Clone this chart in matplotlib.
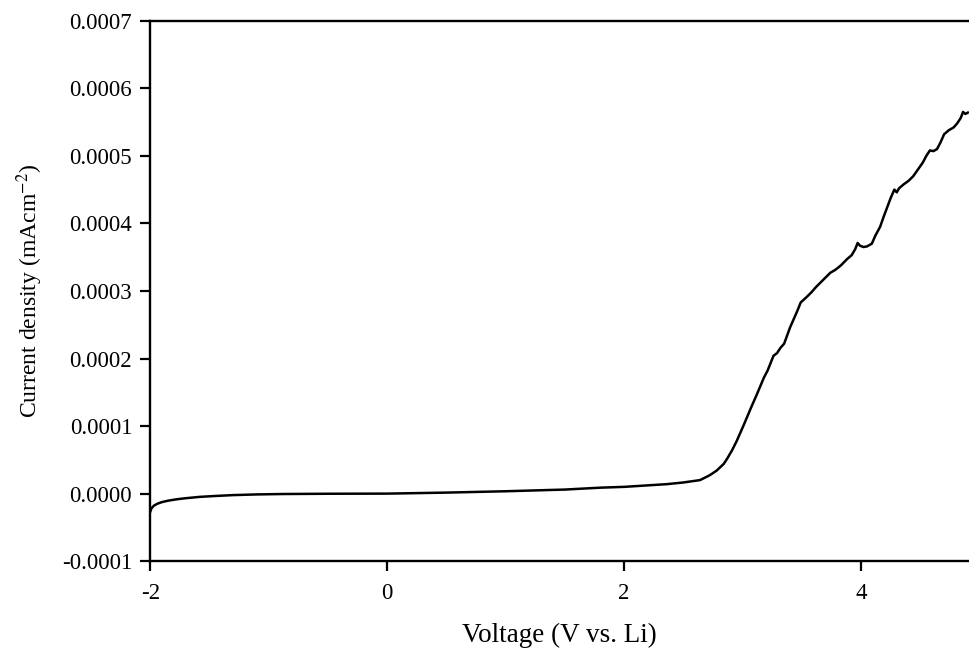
import numpy as np
import matplotlib
matplotlib.use("Agg")
import matplotlib.pyplot as plt

voltage = [-2.00, -1.99, -1.97, -1.94, -1.90, -1.85, -1.78, -1.70, -1.58, -1.45,
           -1.30, -1.10, -0.88, -0.50, 0.00, 0.50, 1.00, 1.50, 1.80, 2.00,
           2.36, 2.50, 2.64, 2.72, 2.78, 2.84, 2.87, 2.91, 2.95, 3.01,
           3.07, 3.12, 3.18, 3.21, 3.26, 3.29, 3.32, 3.35, 3.40, 3.46,
           3.49, 3.54, 3.58, 3.62, 3.66, 3.70, 3.74, 3.78, 3.83, 3.88,
           3.92, 3.95, 3.97, 3.99, 4.02, 4.05, 4.09, 4.12, 4.16, 4.19,
           4.22, 4.25, 4.28, 4.30, 4.32, 4.36, 4.40, 4.44, 4.48, 4.52,
           4.55, 4.58, 4.61, 4.64, 4.67, 4.70, 4.74, 4.78, 4.81, 4.84,
           4.86, 4.88, 4.90]
current_e4 = [-0.27, -0.22, -0.18, -0.15, -0.125, -0.105, -0.085, -0.068, -0.048, -0.035,
              -0.022, -0.012, -0.006, -0.002, 0.000, 0.015, 0.035, 0.060, 0.088, 0.100,
              0.140, 0.165, 0.200, 0.270, 0.340, 0.440, 0.520, 0.640, 0.780, 1.02,
              1.27, 1.47, 1.72, 1.82, 2.04, 2.08, 2.16, 2.22, 2.46, 2.70,
              2.83, 2.91, 2.98, 3.06, 3.13, 3.20, 3.27, 3.31, 3.38, 3.47,
              3.53, 3.62, 3.71, 3.67, 3.65, 3.66, 3.70, 3.82, 3.95, 4.10,
              4.24, 4.38, 4.50, 4.46, 4.52, 4.58, 4.63, 4.70, 4.80, 4.90,
              5.00, 5.08, 5.07, 5.10, 5.20, 5.32, 5.38, 5.42, 5.48, 5.56,
              5.65, 5.62, 5.64]
current = np.array(current_e4) * 1e-4

xticks = [-2, 0, 2, 4]
yticks = [-0.0001, 0.0000, 0.0001, 0.0002, 0.0003, 0.0004, 0.0005, 0.0006, 0.0007]

plt.rcParams['font.family'] = ['Liberation Serif', 'DejaVu Serif']
plt.rcParams['mathtext.fontset'] = 'stix'
plt.rcParams['axes.unicode_minus'] = False

fig = plt.figure(figsize=(9.69, 6.48), dpi=100)
ax = fig.add_axes([0.155, 0.134, 0.845, 0.834])
ax.plot(voltage, current, color='black', lw=1.8)

ax.set_xlim(-2, 4.91)
ax.set_ylim(-0.0001, 0.0007)
ax.set_xticks(xticks)
ax.set_xticklabels([str(t) for t in xticks])
ax.set_yticks(yticks)
ax.set_yticklabels([f"{t:.4f}" for t in yticks])
ax.spines['right'].set_visible(False)
for s in ['left', 'bottom', 'top']:
    ax.spines[s].set_linewidth(1.7)
ax.tick_params(direction='out', length=7, width=1.6, labelsize=16.5, pad=6)
ax.tick_params(axis='x', pad=9)

ax.set_xlabel('Voltage (V vs. Li)', fontsize=19.5, labelpad=13)
ax.set_ylabel(r'Current density (mAcm$^{-2}$)', fontsize=17, labelpad=12)

fig.savefig('out.png', dpi=100)
